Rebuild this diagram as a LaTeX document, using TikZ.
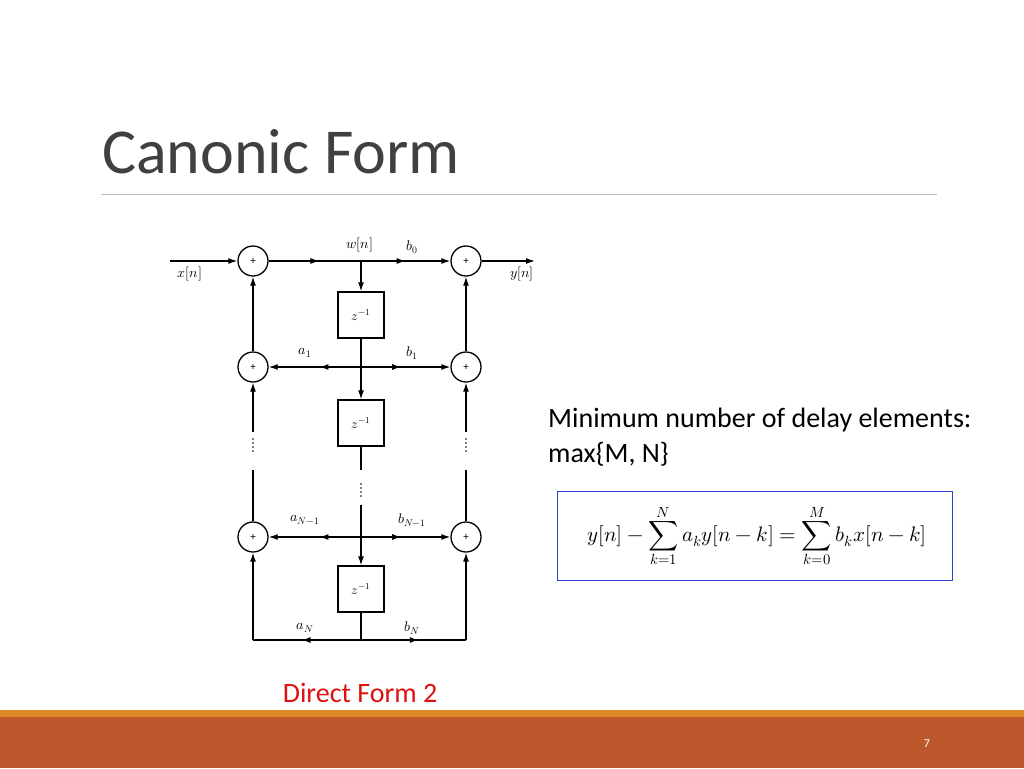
\documentclass[tikz,border=0pt]{standalone}
\usepackage{amsmath}
\usepackage{fontspec}
\usepackage{unicode-math}
\setmainfont{Carlito}
\setmathfont{Latin Modern Math}
\usetikzlibrary{arrows.meta,decorations.markings}
\definecolor{titlegray}{HTML}{404040}
\definecolor{footorange}{HTML}{E0892A}
\definecolor{footbrown}{HTML}{BD582C}
\definecolor{eqblue}{HTML}{2E3FD8}
\definecolor{redtxt}{HTML}{E01010}
\begin{document}
\begin{tikzpicture}[x=1pt,y=-1pt,
  sig/.style={line width=1.3pt,-{Latex[length=9pt,width=6pt]}},
  plain/.style={line width=1.3pt},
  midarr/.style={postaction={decorate},decoration={markings,mark=at position #1 with {\arrow{Latex[length=9pt,width=6pt]}}}},
  adder/.style={circle,draw,line width=1.3pt,minimum size=30pt,inner sep=0pt,font=\fontsize{11}{12}\selectfont},
  delay/.style={draw,line width=1.3pt,minimum width=46pt,minimum height=46pt,inner sep=0pt,font=\fontsize{13}{15}\selectfont},
  lab/.style={inner sep=1pt,font=\fontsize{14}{16}\selectfont}]
\useasboundingbox (0,0) rectangle (1024,768);
\fill[white] (0,0) rectangle (1024,768);
% title
\node[anchor=west,text=titlegray,font=\fontsize{64}{70}\selectfont,inner sep=0pt] (title) at (102,152) {Canonic Form};
\draw[gray!50,line width=0.8pt] (101,194) -- (937,194);
% footer
\fill[footorange] (0,710) rectangle (1024,717);
\fill[footbrown] (0,717) rectangle (1024,768);
\node[text=white,font=\fontsize{12}{14}\selectfont] (pg) at (927,744) {7};
\node[text=redtxt,font=\fontsize{28}{32}\selectfont] (df) at (360,693) {Direct Form 2};
% side text
\node[anchor=west,font=\fontsize{28}{32}\selectfont,inner sep=0pt] (t1) at (548,420) {Minimum number of delay elements:};
\node[anchor=west,font=\fontsize{28}{32}\selectfont,inner sep=0pt] (t2) at (548,454) {max\{M, N\}};
\draw[eqblue,line width=0.8pt] (557,491) rectangle (952,580);
\node (eq) at (757,536) {\fontsize{21}{24}\selectfont$\displaystyle y[n]-\sum_{k=1}^{N}a_k y[n-k]=\sum_{k=0}^{M}b_k x[n-k]$};
% diagram nodes
\node[adder] (L1) at (253,261) {+};
\node[adder] (R1) at (466,261) {+};
\node[adder] (L2) at (253,367) {+};
\node[adder] (R2) at (466,367) {+};
\node[adder] (L3) at (253,537) {+};
\node[adder] (R3) at (466,537) {+};
\node[delay] (D1) at (361,315) {$z^{-1}$};
\node[delay] (D2) at (361,423) {$z^{-1}$};
\node[delay] (D3) at (361,589) {$z^{-1}$};
\coordinate (in) at (170,261);
\coordinate (out) at (535,261);
\coordinate (W) at (361,261);
\coordinate (C2) at (361,367);
\coordinate (C3) at (361,537);
\coordinate (D2e) at (361,470);
\coordinate (C3s) at (361,505);
\coordinate (B) at (361,640);
\coordinate (BL) at (253,640);
\coordinate (BR) at (466,640);
\coordinate (L2d) at (253,432);
\coordinate (L3u) at (253,470);
\coordinate (R2d) at (466,432);
\coordinate (R3u) at (466,470);
% connectors
\draw[sig] (in) -- (L1);
\draw[plain,midarr=0.55] (L1) -- (W);
\draw[sig,midarr=0.5] (W) -- (R1);
\draw[sig] (R1) -- (out);
\draw[sig] (W) -- (D1);
\draw[plain] (D1) -- (C2);
\draw[sig] (C2) -- (D2);
\draw[sig,midarr=0.45] (C2) -- (L2);
\draw[sig,midarr=0.45] (C2) -- (R2);
\draw[sig] (L2) -- (L1);
\draw[sig] (R2) -- (R1);
\draw[sig] (L2d) -- (L2);
\draw[sig] (R2d) -- (R2);
\draw[plain] (L3u) -- (L3);
\draw[plain] (R3u) -- (R3);
\draw[plain] (D2) -- (D2e);
\draw[plain] (C3s) -- (C3);
\draw[sig] (C3) -- (D3);
\draw[sig,midarr=0.45] (C3) -- (L3);
\draw[sig,midarr=0.45] (C3) -- (R3);
\draw[plain] (D3) -- (B);
\draw[plain,midarr=0.55] (B) -- (BL);
\draw[plain,midarr=0.55] (B) -- (BR);
\draw[sig] (BL) -- (L3);
\draw[sig] (BR) -- (R3);
% dots
\foreach \x/\y in {253/445,466/445,361/490}{
  \foreach \d in {-6,-2,2,6} \fill (\x,\y+\d) circle (0.9pt);}
% labels
\node[lab] (xn) at (190,274) {$x[n]$};
\node[lab] (wn) at (360,245) {$w[n]$};
\node[lab] (b0) at (412,247) {$b_0$};
\node[lab] (yn) at (522,274) {$y[n]$};
\node[lab] (a1) at (305,353) {$a_1$};
\node[lab] (b1) at (412,353) {$b_1$};
\node[lab] (aN1) at (305,520) {$a_{N-1}$};
\node[lab] (bN1) at (412,520) {$b_{N-1}$};
\node[lab] (aN) at (305,628) {$a_N$};
\node[lab] (bN) at (412,628) {$b_N$};
\end{tikzpicture}
\end{document}
